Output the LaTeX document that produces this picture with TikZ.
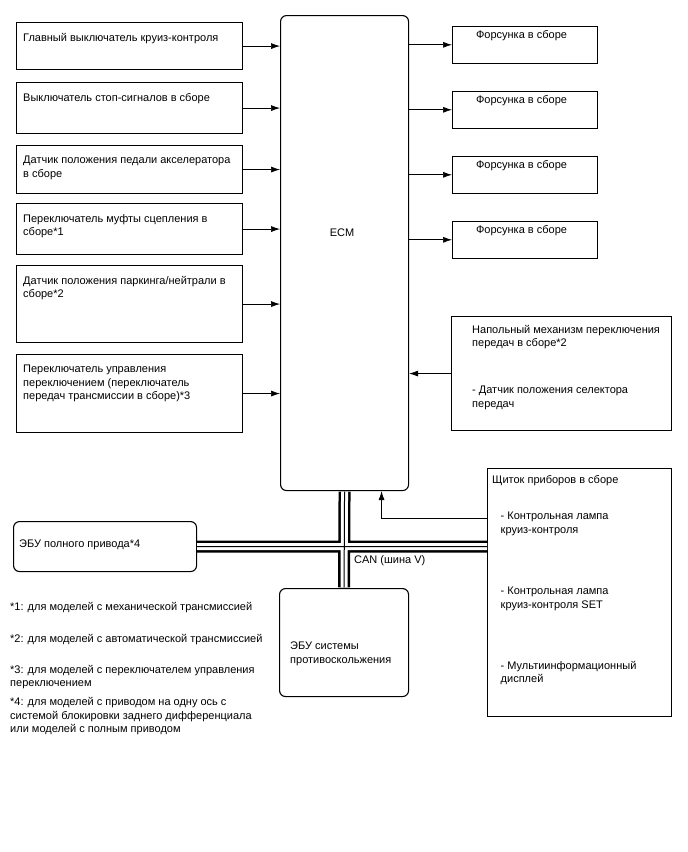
\documentclass[tikz,border=0pt]{standalone}
\usepackage{fontspec}
\setmainfont{Liberation Sans}
\usepackage{tikz}
\usetikzlibrary{arrows.meta,calc,positioning}

\begin{document}
\begin{tikzpicture}[x=1pt,y=-1pt,>={Latex[length=9pt,width=6pt]},
  font=\fontsize{11}{13.5}\selectfont,
  box/.style={draw,line width=1.1pt,anchor=north west,inner sep=0pt},
  unit/.style={box,rounded corners=6pt},
  txt/.style={inner sep=0pt,align=left},
  sig/.style={->,line width=0.7pt}]
  \useasboundingbox (0,0) rectangle (688,852);

  \node[unit,minimum width=128,minimum height=475] (ecm) at (280,15) {};
  \node[txt] (ecmtxt) at (342,233) {ECM};

  \node[box,minimum width=226,minimum height=47] (cruise) at (16,22) {};
  \node[box,minimum width=226,minimum height=51] (stop) at (16,82) {};
  \node[box,minimum width=226,minimum height=48] (pedal) at (16,145) {};
  \node[box,minimum width=226,minimum height=51] (clutch) at (16,203) {};
  \node[box,minimum width=226,minimum height=77] (pnp) at (16,265) {};
  \node[box,minimum width=226,minimum height=78] (shift) at (16,354) {};

  \node[txt,below right=11pt and 7pt of cruise.north west] (cruisetxt) {Главный выключатель круиз-контроля};
  \node[txt,below right=11pt and 7pt of stop.north west] (stoptxt) {Выключатель стоп-сигналов в сборе};
  \node[txt,below right=11pt and 7pt of pedal.north west] (pedaltxt) {Датчик положения педали акселератора\\в сборе};
  \node[txt,below right=11pt and 7pt of clutch.north west] (clutchtxt) {Переключатель муфты сцепления в\\сборе*1};
  \node[txt,below right=11pt and 7pt of pnp.north west] (pnptxt) {Датчик положения паркинга/нейтрали в\\сборе*2};
  \node[txt,below right=11pt and 7pt of shift.north west] (shifttxt) {Переключатель управления\\переключением (переключатель\\передач трансмиссии в сборе)*3};

  \foreach \src in {cruise,stop,pedal,clutch,pnp,shift}
    \draw[sig] (\src.east) -- (\src.east -| ecm.west);

  \foreach \i/\y in {1/26,2/91,3/156,4/221}{
    \node[box,minimum width=145,minimum height=36.5] (inj\i) at (452,\y) {};
    \node[txt,anchor=north] (inj\i txt) at ([xshift=-3.5pt,yshift=-4pt]inj\i.north) {Форсунка в сборе};
    \draw[sig] (ecm.east |- inj\i.west) -- (inj\i.west);
  }

  \node[box,minimum width=220,minimum height=114] (lever) at (451,316) {};
  \node[txt,below right=9pt and 21pt of lever.north west] (levertxt) {Напольный механизм переключения\\передач в сборе*2};
  \node[txt,below right=70pt and 21pt of lever.north west] (selecttxt) {- Датчик положения селектора\\передач};
  \draw[sig] (lever.west) -- (lever.west -| ecm.east);

  \node[box,minimum width=184,minimum height=248] (panel) at (487,468) {};
  \node[txt,below right=7pt and 5pt of panel.north west] (paneltxt) {Щиток приборов в сборе};
  \node[txt,below right=44pt and 13.5pt of panel.north west] (lamp1) {- Контрольная лампа\\круиз-контроля};
  \node[txt,below right=119pt and 13.5pt of panel.north west] (lamp2) {- Контрольная лампа\\круиз-контроля SET};
  \node[txt,below right=193pt and 13.5pt of panel.north west] (mid) {- Мультиинформационный\\дисплей};
  \draw[sig] ($(panel.north west)+(0,50)$) -| ([xshift=37pt]ecm.south);

  \node[unit,minimum width=183,minimum height=50] (awd) at (13,521) {};
  \node[txt,anchor=west] (awdtxt) at (19,545) {ЭБУ полного привода*4};
  \node[unit,minimum width=129,minimum height=108] (abs) at (279,588) {};
  \node[txt,anchor=west] (abstxt) at (290,654) {ЭБУ системы\\противоскольжения};

  \foreach \w/\c in {12/black,7/white,1/black}
    \draw[line width=\w pt,\c,shorten <=0.55pt,shorten >=0.55pt]
      (awd.east) -- (awd.east -| panel.west) (ecm.south) -- (abs.north);
  \node[txt,anchor=west] (can) at (354,561) {CAN (шина V)};

  \foreach \n/\y/\t in {1/608/{*1: для моделей с механической трансмиссией},
      2/640/{*2: для моделей с автоматической трансмиссией},
      3/677/{*3: для моделей с переключателем управления\\переключением},
      4/716.5/{*4: для моделей с приводом на одну ось с\\системой блокировки заднего дифференциала\\или моделей с полным приводом}}
    \node[txt,anchor=west] (note\n) at (10,\y) {\t};
\end{tikzpicture}
\end{document}
